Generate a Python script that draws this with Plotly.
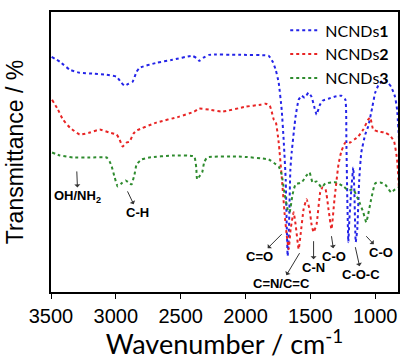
import plotly.graph_objects as go

# ---- data (wavenumber in cm^-1, transmittance in arbitrary units, offset curves) ----
wn1 = [3495, 3431, 3354, 3278, 3163, 3071, 2994, 2963, 2933, 2902, 2871, 2840, 2817, 2687, 2564,
       2411, 2380, 2357, 2327, 2281, 2051, 1821, 1790, 1767, 1744, 1721, 1706, 1690, 1683, 1675,
       1667, 1654, 1644, 1614, 1590, 1567, 1544, 1514, 1491, 1468, 1452, 1429, 1406, 1360, 1314,
       1261, 1230, 1222, 1215, 1207, 1199, 1184, 1169, 1161, 1150, 1138, 1123, 1107, 1077, 1054,
       1023, 1000, 969, 923, 900, 877, 847, 831, 816]
t1 = [236, 231, 223, 220, 219, 218, 216, 211, 207, 209, 211, 221, 225, 230, 233,
      237, 235, 232, 235, 238, 238, 237, 231, 223, 210, 183, 153, 113, 73, 36,
      53, 123, 140, 176, 193, 197, 195, 200, 196, 185, 178, 187, 192, 194, 196,
      197, 193, 150, 93, 50, 73, 103, 125, 103, 50, 63, 113, 140, 158, 166,
      185, 200, 209, 213, 210, 206, 196, 183, 153]

wn2 = [3492, 3446, 3408, 3354, 3278, 3201, 3124, 3048, 2994, 2971, 2948, 2917, 2894, 2864, 2840,
       2687, 2511, 2396, 2357, 2281, 2181, 1997, 1882, 1843, 1813, 1798, 1782, 1767, 1744, 1721,
       1698, 1683, 1667, 1652, 1629, 1614, 1590, 1575, 1552, 1529, 1506, 1491, 1475, 1452, 1424,
       1406, 1383, 1360, 1337, 1314, 1283, 1261, 1230, 1192, 1161, 1131, 1092, 1054, 1038, 1015,
       977, 923, 885, 854, 831, 816]
t2 = [193, 183, 173, 165, 158, 160, 163, 160, 158, 153, 146, 150, 151, 159, 162,
      170, 176, 181, 184, 183, 181, 186, 188, 189, 187, 181, 173, 171, 150, 116,
      78, 58, 43, 63, 80, 68, 43, 58, 83, 93, 83, 68, 60, 68, 100,
      105, 103, 83, 63, 93, 128, 141, 150, 150, 153, 156, 163, 173, 175, 163,
      161, 160, 157, 151, 133, 103]

wn3 = [3492, 3431, 3331, 3201, 3071, 3048, 3032, 3009, 2986, 2956, 2925, 2902, 2879, 2856, 2840,
       2802, 2741, 2564, 2396, 2380, 2373, 2350, 2334, 2319, 2296, 2051, 1821, 1775, 1744, 1721,
       1698, 1675, 1660, 1637, 1614, 1567, 1529, 1506, 1483, 1452, 1414, 1383, 1337, 1299, 1245,
       1207, 1169, 1138, 1115, 1092, 1069, 1054, 1031, 1000, 962, 923, 877, 847, 816]
t3 = [140, 137, 135, 135, 135, 131, 126, 115, 106, 109, 112, 110, 108, 118, 128,
      133, 135, 137, 136, 125, 113, 117, 120, 130, 135, 136, 133, 129, 126, 118,
      98, 83, 80, 98, 108, 110, 117, 120, 110, 111, 105, 109, 110, 110, 106,
      102, 103, 95, 88, 80, 70, 78, 93, 109, 110, 108, 100, 103, 105]

series_names = ["NCNDs<b>1</b>", "NCNDs<b>2</b>", "NCNDs<b>3</b>"]
series_colors = ["#2424e8", "#e82424", "#2e8b2e"]

x_ticks = [3500, 3000, 2500, 2000, 1500, 1000]

# band assignment labels: text, band wavenumber, curve point, label pixel offset
band_labels = ["OH/NH<sub>2</sub>", "C-H", "C=O", "C=N/C=C", "C-N", "C-O", "C-O-C", "C-O"]
band_wn = [3301, 2910, 1721, 1583, 1475, 1337, 1153, 1069]
band_t = [121, 101, 58, 39, 51, 56, 45, 56]
label_dx = [1, 10, -22, -18, 0, 3, 6, 15]
label_dy = [25, 21, 22, 30, 26, 20, 27, 16]

fig = go.Figure()
for wn, t, name, col in zip([wn1, wn2, wn3], [t1, t2, t3], series_names, series_colors):
    fig.add_trace(go.Scatter(x=wn, y=t, mode="lines", name=name,
                             line=dict(color=col, width=2, dash="dot", shape="spline", smoothing=0.4)))

lab_font = dict(family="Liberation Sans, Arial", size=13, color="black")
annotations = []
for txt, x, y, dx, dy in zip(band_labels, band_wn, band_t, label_dx, label_dy):
    annotations.append(dict(text="<b>" + txt + "</b>", x=x, y=y, xref="x", yref="y",
                            ax=dx, ay=dy, showarrow=True, arrowside="start", arrowhead=2,
                            arrowsize=0.8, arrowwidth=1, arrowcolor="#333333",
                            borderpad=0, font=lab_font))

fig.update_layout(
    width=400, height=360,
    margin=dict(l=51, r=0, t=12, b=68),
    plot_bgcolor="white", paper_bgcolor="white",
    showlegend=True,
    legend=dict(x=0.675, y=0.995, xanchor="left", yanchor="top", bgcolor="rgba(0,0,0,0)",
                font=dict(family="Lato", size=16, color="black")),
    annotations=annotations,
)
fig.update_xaxes(range=[3500, 824], tickvals=x_ticks, ticks="outside", ticklen=5, tickcolor="black",
                 showline=True, linecolor="black", linewidth=1.5, mirror=True, showgrid=False,
                 zeroline=False,
                 tickfont=dict(family="Liberation Sans, Arial", size=20, color="black"),
                 title=dict(text="Wavenumber / cm<sup>-1</sup>", standoff=4,
                            font=dict(family="Lato", size=27, color="black")))
fig.update_yaxes(range=[0, 281], showticklabels=False, ticks="", showline=True, linecolor="black",
                 linewidth=1.5, mirror=True, showgrid=False, zeroline=False,
                 title=dict(text="Transmittance / %", standoff=19,
                            font=dict(family="Liberation Sans, Arial", size=23, color="black")))

fig.write_html("out.html")
